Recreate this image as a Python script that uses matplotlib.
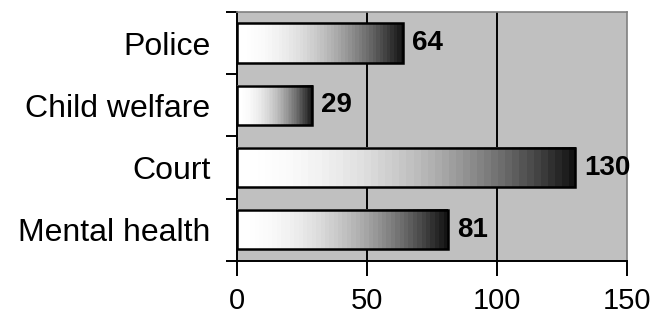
import matplotlib
matplotlib.use("Agg")
import matplotlib.pyplot as plt
import numpy as np
from matplotlib.patches import Rectangle

categories = ["Police", "Child welfare", "Court", "Mental health"]
values = [64, 29, 130, 81]
xticks = [0, 50, 100, 150]

plt.rcParams['font.family'] = ['Liberation Sans', 'DejaVu Sans']

fig = plt.figure(figsize=(6.58, 3.21), dpi=100)
ax = fig.add_axes([0.360, 0.187, 0.593, 0.776])
ax.set_facecolor('#c0c0c0')

n = len(categories)
ypos = np.arange(n)[::-1]  # first category on top
bar_h = 0.63

# stepped white-to-black fill along each bar
steps = 48
t = (np.arange(steps) + 0.5) / steps
grad = (1 - t ** 2)[None, :] * 0.94 + 0.06

for y, v in zip(ypos, values):
    ax.imshow(grad, cmap='gray', vmin=0, vmax=1, aspect='auto',
              extent=(0, v, y - bar_h / 2, y + bar_h / 2),
              interpolation='nearest', zorder=3)
    ax.add_patch(Rectangle((0, y - bar_h / 2), v, bar_h, fill=False,
                           edgecolor='black', linewidth=1.8, zorder=4))
    ax.text(v + 3.5, y, str(v), va='center', ha='left', fontsize=20,
            fontweight='bold', zorder=5)

ax.set_xlim(0, 150)
ax.set_ylim(-0.5, n - 0.5)

for gx in [50, 100]:
    ax.axvline(gx, color='black', linewidth=1.4, zorder=1)

ax.set_xticks(xticks)
ax.set_xticklabels([str(x) for x in xticks], fontsize=21)
ax.set_yticks(np.arange(-0.5, n, 1.0))
ax.set_yticklabels([])
ax.set_yticks(ypos, minor=True)
ax.set_yticklabels(categories, minor=True, fontsize=23)
ax.tick_params(axis='y', which='minor', length=0, pad=19)
ax.tick_params(axis='y', which='major', length=8, width=1.4, direction='out')
ax.tick_params(axis='x', length=11, width=1.4, direction='out', pad=8)

ax.spines['left'].set_linewidth(1.4)
ax.spines['bottom'].set_linewidth(1.4)
for s in ['top', 'right']:
    ax.spines[s].set_color('#808080')
    ax.spines[s].set_linewidth(1.2)

fig.savefig("out.png", dpi=100)
